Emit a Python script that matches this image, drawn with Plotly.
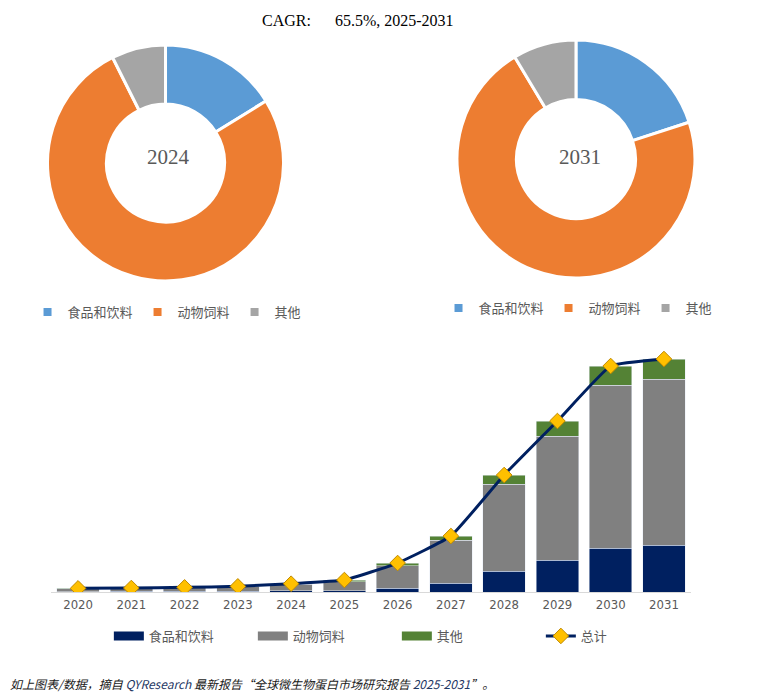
import plotly.graph_objects as go

# 饼图数据（份额 %）
pie_labels = ["食品和饮料", "动物饲料", "其他"]
share_2024 = [16.2, 76.4, 7.4]
share_2031 = [20.0, 71.4, 8.6]
pie_colors = ["#5B9BD5", "#ED7D31", "#A5A5A5"]

# 柱状图数据（相对规模）
years = ["2020", "2021", "2022", "2023", "2024", "2025",
         "2026", "2027", "2028", "2029", "2030", "2031"]
food = [1.5, 1.7, 2.0, 2.5, 4.0, 4.0, 12, 27, 63, 96, 132, 141]
feed = [8.0, 8.8, 10.5, 13.0, 19.1, 27.0, 67, 129, 261, 372, 489, 498]
other = [1.5, 1.5, 1.5, 1.5, 1.9, 5.0, 8, 12, 27, 45, 57, 60]
total = [f + a + o for f, a, o in zip(food, feed, other)]

bar_names = ["食品和饮料", "动物饲料", "其他"]
bar_colors = ["#002060", "#808080", "#548235"]

cjk = "Noto Sans CJK SC"
narrow = "Liberation Sans Narrow, DejaVu Sans Condensed, sans-serif"
serif = "Liberation Serif, Times New Roman, serif"

fig = go.Figure()

# 两个环形图
for vals, dom in [(share_2024, dict(x=[0.0521, 0.3635], y=[0.606, 0.9499])),
                  (share_2031, dict(x=[0.5923, 0.9063], y=[0.6117, 0.9556]))]:
    fig.add_trace(go.Pie(
        labels=pie_labels, values=vals, hole=0.5, sort=False,
        direction="clockwise", rotation=0,
        marker=dict(colors=pie_colors, line=dict(color="white", width=3)),
        textinfo="none", hoverinfo="label+percent",
        domain=dom, showlegend=False,
    ))

# 每个环形图下方的图例（空数据，仅用于图例）
for lg in ["legend", "legend2"]:
    for name, c in zip(pie_labels, pie_colors):
        fig.add_trace(go.Scatter(
            x=[None], y=[None], mode="markers", name=name,
            marker=dict(symbol="square", size=8, color=c),
            legend=lg, hoverinfo="skip",
        ))

# 堆积柱状图
for name, vals, c in zip(bar_names, [food, feed, other], bar_colors):
    fig.add_trace(go.Bar(x=years, y=vals, name=name, marker_color=c,
                         showlegend=False))
# 柱状图图例（宽色块）
for name, c in zip(bar_names, bar_colors):
    fig.add_trace(go.Scatter(
        x=[None], y=[None], mode="lines", name=name,
        line=dict(color=c, width=9), legend="legend3", hoverinfo="skip",
    ))

# 总计折线
fig.add_trace(go.Scatter(
    x=years, y=total, name="总计", mode="lines+markers",
    line=dict(color="#002060", width=3, shape="spline", smoothing=0.35),
    marker=dict(symbol="diamond", size=12, color="#FFC000",
                line=dict(color="#C08A00", width=1)),
    legend="legend3",
))

fig.update_layout(
    width=758, height=698,
    margin=dict(l=0, r=0, t=0, b=0),
    paper_bgcolor="white", plot_bgcolor="white",
    barmode="stack", bargap=0.2,
    showlegend=True,
    xaxis=dict(
        domain=[0.0573, 0.9005], type="category", range=[-0.5, 11.5],
        showgrid=False, showline=True, linecolor="#D9D9D9", linewidth=1,
        ticks="", tickfont=dict(family=narrow, size=13, color="#595959"),
    ),
    yaxis=dict(
        domain=[0.1633, 0.5616], range=[0, 834],
        visible=False, showgrid=False,
    ),
    legend=dict(
        orientation="h", x=0.2098, y=0.5645, xanchor="center", yanchor="middle",
        font=dict(family=cjk, size=13, color="#595959"),
        itemwidth=30, traceorder="normal", bgcolor="rgba(0,0,0,0)",
    ),
    legend2=dict(
        orientation="h", x=0.752, y=0.5702, xanchor="center", yanchor="middle",
        font=dict(family=cjk, size=13, color="#595959"),
        itemwidth=30, traceorder="normal", bgcolor="rgba(0,0,0,0)",
    ),
    legend3=dict(
        orientation="h", x=0.513, y=0.1003, xanchor="center", yanchor="middle",
        font=dict(family=cjk, size=13, color="#595959"),
        entrywidth=99, traceorder="normal",
        bgcolor="rgba(0,0,0,0)",
    ),
    annotations=[
        dict(text="CAGR:&nbsp;&nbsp;&nbsp;&nbsp;&nbsp;&nbsp;65.5%, 2025-2031",
             x=0.4617, y=0.9828, xref="paper", yref="paper",
             xanchor="center", yanchor="middle",
             showarrow=False, font=dict(family=serif, size=16, color="black")),
        dict(text="2024", x=0.2111, y=0.7865, xref="paper", yref="paper",
             xanchor="center", yanchor="middle",
             showarrow=False, font=dict(family=serif, size=21, color="#595959")),
        dict(text="2031", x=0.754, y=0.7865, xref="paper", yref="paper",
             xanchor="center", yanchor="middle",
             showarrow=False, font=dict(family=serif, size=21, color="#595959")),
        dict(text="<i>如上图表/数据，摘自 <span style='color:#1F3864'>QYResearch</span> "
                  "最新报告“全球微生物蛋白市场研究报告 "
                  "<span style='color:#1F3864'>2025-2031</span>”。</i>",
             x=0.0, y=1 - 675 / 698, xref="paper", yref="paper",
             xanchor="left", yanchor="middle", showarrow=False,
             font=dict(family=cjk, size=12, color="#1a1a1a")),
    ],
)

fig.write_html("out.html")
